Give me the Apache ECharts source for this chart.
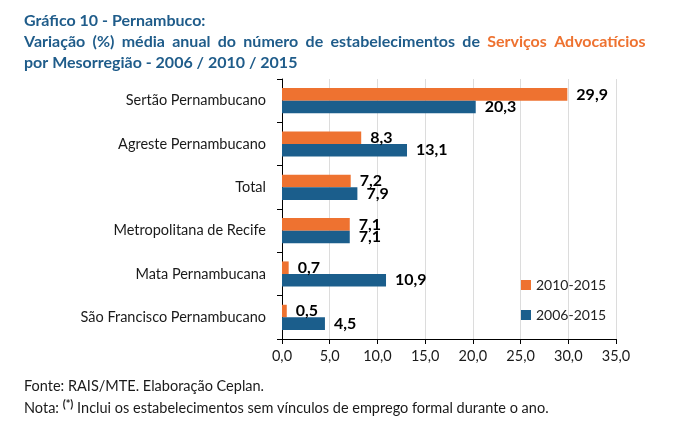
<!DOCTYPE html>
<html>
<head>
<meta charset="utf-8">
<script src="https://cdn.jsdelivr.net/npm/echarts@6/dist/echarts.min.js"></script>
<style>
  html, body { margin: 0; padding: 0; background: #fff; }
  #chart { width: 680px; height: 435px; }
</style>
</head>
<body>
<div id="chart"></div>
<script>
// Data
const regions = [
    'Sertão Pernambucano',
    'Agreste Pernambucano',
    'Total',
    'Metropolitana de Recife',
    'Mata Pernambucana',
    'São Francisco Pernambucano'
];
const seriesNames = ['2010-2015', '2006-2015'];
const values2010 = [29.9, 8.3, 7.2, 7.1, 0.7, 0.5];
const values2006 = [20.3, 13.1, 7.9, 7.1, 10.9, 4.5];

const ORANGE = '#EE7230';
const BLUE = '#1B5E8C';
const TITLE_BLUE = '#1F5C8A';
const FONT = 'Lato, "Open Sans", sans-serif';

const fmt = v => v.toFixed(1).replace('.', ',');

// second title line is justified in the original: join words with wide spacers
const line2Words = ['Variação', '(%)', 'média', 'anual', 'do', 'número', 'de', 'estabelecimentos', 'de'];
const line2Orange = ['Serviços', 'Advocatícios'];
const line2 = line2Words.map(w => '{a|' + w + '}').join('{sp| }') + '{sp| }' +
    line2Orange.map(w => '{o|' + w + '}').join('{sp| }');

const chart = echarts.init(document.getElementById('chart'));

const barLabel = {
    show: true,
    position: 'right',
    distance: 9,
    color: '#000',
    fontFamily: FONT,
    fontWeight: 'bold',
    fontSize: 16,
    formatter: p => fmt(p.value)
};

const titleStyle = { fontFamily: FONT, fontWeight: 'bold', fontSize: 16, lineHeight: 21 };

const option = {
    animation: false,
    backgroundColor: '#fff',
    textStyle: { fontFamily: FONT },
    title: {
        left: 24,
        top: 10,
        padding: 0,
        text: '{a|Gráfico 10 - Pernambuco:}\n' + line2 + '\n{a|por Mesorregião - 2006 / 2010 / 2015}',
        textStyle: {
            lineHeight: 21,
            rich: {
                a: Object.assign({ color: TITLE_BLUE }, titleStyle),
                o: Object.assign({ color: ORANGE }, titleStyle),
                sp: Object.assign({ color: TITLE_BLUE, width: 7.3 }, titleStyle)
            }
        }
    },
    legend: {
        orient: 'vertical',
        left: 516,
        top: 273,
        itemWidth: 10,
        itemHeight: 10,
        itemGap: 16,
        icon: 'rect',
        data: seriesNames,
        textStyle: { color: '#222', fontSize: 14, fontFamily: FONT }
    },
    grid: { left: 282, right: 64, top: 79, bottom: 96 },
    xAxis: {
        type: 'value',
        min: 0,
        max: 35,
        interval: 5,
        axisLine: { show: true, lineStyle: { color: '#000', width: 1 } },
        axisTick: { show: true, length: 5, lineStyle: { color: '#000' } },
        axisLabel: { color: '#1a1a1a', fontSize: 14.5, margin: 10, formatter: v => fmt(v) },
        splitLine: { show: true, lineStyle: { color: '#dcdcdc' } }
    },
    yAxis: {
        type: 'category',
        inverse: true,
        data: regions,
        axisLine: { show: true, lineStyle: { color: '#000', width: 1 } },
        axisTick: { show: true, length: 5, inside: false, lineStyle: { color: '#000' } },
        axisLabel: { color: '#1a1a1a', fontSize: 14.5, margin: 16 }
    },
    series: [
        {
            name: seriesNames[0],
            type: 'bar',
            data: values2010,
            itemStyle: { color: ORANGE },
            barGap: '0%',
            barCategoryGap: '42%',
            label: barLabel
        },
        {
            name: seriesNames[1],
            type: 'bar',
            data: values2006,
            itemStyle: { color: BLUE },
            barGap: '0%',
            barCategoryGap: '42%',
            label: barLabel
        }
    ],
    graphic: [
        {
            type: 'text',
            left: 24,
            top: 379,
            style: {
                text: 'Fonte: RAIS/MTE. Elaboração Ceplan.',
                fill: '#1a1a1a',
                font: '14.5px ' + FONT
            }
        },
        {
            type: 'text',
            left: 24,
            top: 399,
            style: {
                text: '{n|Nota: }{s|(*)}{n| Inclui os estabelecimentos sem vínculos de emprego formal durante o ano.}',
                rich: {
                    n: { fill: '#1a1a1a', fontSize: 14.5, fontFamily: FONT, lineHeight: 19 },
                    s: { fill: '#1a1a1a', fontSize: 11, fontWeight: 'bold', fontFamily: FONT, verticalAlign: 'top', lineHeight: 19, padding: [0, 0, 6, 0] }
                }
            }
        }
    ]
};

chart.setOption(option);
</script>
</body>
</html>
